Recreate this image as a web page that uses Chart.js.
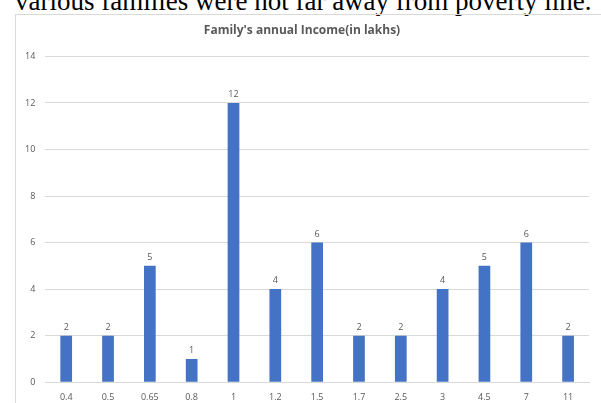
<!DOCTYPE html>
<html>
<head>
<meta charset="utf-8">
<script src="https://cdn.jsdelivr.net/npm/chart.js@4"></script>
<style>
    html, body { margin: 0; padding: 0; background: #fff; overflow: hidden; }
    body { width: 601px; height: 403px; position: relative; }
    .caption {
        position: absolute; left: 15px; top: -13px;
        font-family: "Liberation Serif", "Times New Roman", serif;
        font-size: 27px; line-height: 28px; color: #000; white-space: nowrap;
    }
    .box {
        position: absolute; left: 15px; top: 14px; width: 600px; height: 400px;
        border-left: 1px solid #d9d9d9; border-top: 1px solid #d9d9d9;
    }
    .box canvas { display: block; }
</style>
</head>
<body>
<div class="caption">various families were not far away from poverty line.</div>
<div class="box"><canvas id="incomeChart" width="585" height="400"></canvas></div>
<script>
const incomeLabels = ['0.4', '0.5', '0.65', '0.8', '1', '1.2', '1.5', '1.7', '2.5', '3', '4.5', '7', '11'];
const familyCounts = [2, 2, 5, 1, 12, 4, 6, 2, 2, 4, 5, 6, 2];
const yTicks = [0, 2, 4, 6, 8, 10, 12, 14];

const textGray = '#595959';

// draw the value above each bar
const valueLabels = {
    id: 'valueLabels',
    afterDatasetsDraw(chart) {
        const ctx = chart.ctx;
        const meta = chart.getDatasetMeta(0);
        ctx.save();
        ctx.font = '9px "Open Sans", sans-serif';
        ctx.fillStyle = textGray;
        ctx.textAlign = 'center';
        ctx.textBaseline = 'bottom';
        meta.data.forEach((bar, i) => {
            ctx.fillText(String(familyCounts[i]), bar.x, bar.y - 4);
        });
        ctx.restore();
    }
};

new Chart(document.getElementById('incomeChart').getContext('2d'), {
    type: 'bar',
    data: {
        labels: incomeLabels,
        datasets: [{
            data: familyCounts,
            backgroundColor: '#4472c4',
            categoryPercentage: 1,
            barPercentage: 0.28
        }]
    },
    options: {
        responsive: false,
        animation: false,
        layout: { padding: { left: -1, right: 12, top: 0, bottom: 10 } },
        plugins: {
            legend: { display: false },
            tooltip: { enabled: false },
            title: {
                display: true,
                text: "Family's annual Income(in lakhs)",
                color: textGray,
                font: { family: '"Open Sans", sans-serif', size: 12, weight: 'bold' },
                padding: { top: 8, bottom: 19 }
            }
        },
        scales: {
            y: {
                min: 0,
                max: 14,
                afterBuildTicks: (axis) => { axis.ticks = yTicks.map(v => ({ value: v })); },
                grid: { color: '#d9d9d9', drawTicks: false },
                border: { display: false },
                ticks: {
                    color: textGray,
                    padding: 10,
                    font: { family: '"Open Sans", sans-serif', size: 9 }
                }
            },
            x: {
                grid: { display: false },
                border: { color: '#d9d9d9' },
                ticks: {
                    color: textGray,
                    padding: 2,
                    font: { family: '"Open Sans", sans-serif', size: 9 }
                }
            }
        }
    },
    plugins: [valueLabels]
});
</script>
</body>
</html>
